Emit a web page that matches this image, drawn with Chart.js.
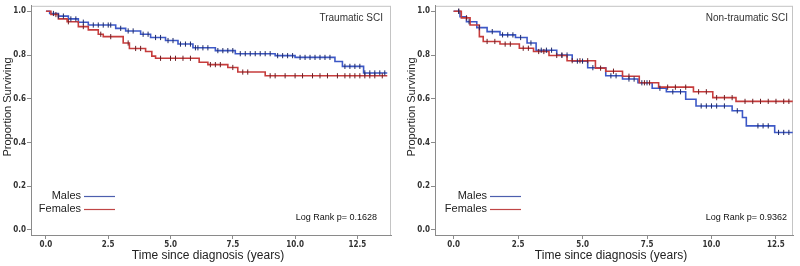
<!DOCTYPE html>
<html>
<head>
<meta charset="utf-8">
<script src="https://cdn.jsdelivr.net/npm/chart.js@4.4.1/dist/chart.umd.min.js"></script>
<style>
    html, body { margin: 0; padding: 0; background: #fff; }
    #wrap { display: flex; width: 800px; height: 266px; }
    canvas { display: block; }
</style>
</head>
<body>
<div id="wrap">
    <canvas id="traumaChart" width="400" height="266"></canvas>
    <canvas id="nonTraumaChart" width="400" height="266"></canvas>
</div>
<script>
const xTicks = [0, 2.5, 5, 7.5, 10, 12.5];
const yTicks = [0, 0.2, 0.4, 0.6, 0.8, 1.0];
const groupLabels = ['Males', 'Females'];
const panelTitles = ['Traumatic SCI', 'Non-traumatic SCI'];
const logRankTexts = ['Log Rank p= 0.1628', 'Log Rank p= 0.9362'];

// Traumatic SCI - step times (years) and survival after each step
const traumaMaleTime = [0, 0.15, 0.5, 0.9, 1.3, 1.7, 2.8, 3.2, 3.8, 4.2, 4.8, 5.3, 5.9, 6.8, 7.6, 9.2, 10.0, 11.6, 11.9, 12.75, 13.7];
const traumaMaleSurv = [1.0, 0.99, 0.978, 0.965, 0.95, 0.937, 0.922, 0.91, 0.895, 0.88, 0.866, 0.85, 0.833, 0.82, 0.806, 0.797, 0.789, 0.77, 0.748, 0.718, 0.718];
const traumaMaleCensor = [0.3, 0.5, 0.7, 1.0, 1.2, 1.5, 1.9, 2.1, 2.3, 2.5, 2.6, 3.0, 3.3, 3.5, 3.9, 4.1, 4.4, 4.6, 4.9, 5.1, 5.4, 5.6, 5.8, 6.0, 6.1, 6.3, 6.5, 6.9, 7.1, 7.3, 7.5, 7.8, 8.0, 8.2, 8.4, 8.6, 8.8, 9.0, 9.3, 9.5, 9.7, 9.9, 10.2, 10.4, 10.6, 10.8, 11.0, 11.2, 11.4, 12.0, 12.2, 12.4, 12.6, 12.8, 13.0, 13.2, 13.4, 13.6];

const traumaFemaleTime = [0, 0.2, 0.5, 0.85, 1.3, 1.7, 2.1, 2.3, 3.1, 3.35, 4.0, 4.25, 4.4, 6.15, 6.5, 7.3, 7.7, 8.8, 13.7];
const traumaFemaleSurv = [1.0, 0.985, 0.965, 0.952, 0.93, 0.915, 0.895, 0.884, 0.855, 0.83, 0.816, 0.795, 0.785, 0.767, 0.756, 0.743, 0.722, 0.705, 0.705];
const traumaFemaleCensor = [0.4, 0.9, 1.5, 2.2, 2.6, 3.3, 3.6, 3.8, 4.6, 5.0, 5.2, 5.5, 5.8, 6.6, 6.8, 7.0, 7.5, 7.9, 8.1, 9.0, 9.2, 9.6, 10.0, 10.3, 10.7, 11.0, 11.3, 11.7, 12.0, 12.2, 12.4, 12.6, 12.8, 13.0, 13.2, 13.5];

// Non-traumatic SCI
const nonTraumaMaleTime = [0, 0.25, 0.5, 0.9, 1.3, 1.8, 2.4, 2.85, 3.2, 4.0, 4.6, 5.2, 5.9, 6.55, 7.15, 7.7, 8.25, 9.0, 9.4, 10.8, 11.2, 11.35, 12.45, 13.15];
const nonTraumaMaleSurv = [1.0, 0.975, 0.952, 0.925, 0.907, 0.892, 0.88, 0.855, 0.822, 0.80, 0.772, 0.742, 0.705, 0.69, 0.673, 0.648, 0.632, 0.598, 0.567, 0.545, 0.514, 0.476, 0.446, 0.446];
const nonTraumaMaleCensor = [0.2, 0.6, 1.0, 1.5, 1.9, 2.1, 2.3, 2.6, 3.0, 3.4, 3.6, 3.8, 4.2, 4.4, 4.8, 5.0, 5.4, 6.1, 6.3, 6.8, 7.0, 7.3, 7.5, 8.0, 8.5, 8.8, 9.6, 9.8, 10.0, 10.2, 10.5, 11.0, 11.8, 12.0, 12.2, 12.6, 12.8, 13.0];

const nonTraumaFemaleTime = [0, 0.3, 0.64, 1.0, 1.15, 1.8, 2.55, 3.1, 3.7, 4.4, 5.5, 5.9, 6.55, 7.2, 7.95, 9.3, 10.05, 10.95, 13.15];
const nonTraumaFemaleSurv = [1.0, 0.97, 0.937, 0.884, 0.862, 0.85, 0.831, 0.816, 0.798, 0.774, 0.74, 0.726, 0.703, 0.673, 0.653, 0.632, 0.605, 0.588, 0.588];
const nonTraumaFemaleCensor = [0.2, 0.5, 1.3, 1.6, 2.0, 2.2, 2.7, 2.9, 3.3, 3.5, 4.0, 4.2, 4.6, 4.9, 5.2, 5.7, 6.2, 6.8, 7.4, 7.6, 8.3, 8.6, 9.0, 9.5, 9.8, 10.2, 10.5, 10.8, 11.3, 11.6, 11.9, 12.2, 12.5, 12.8, 13.0];

const lineColors = ['#3d58c6', '#c63c3c'];
const censorColors = ['#1f2a66', '#6b1e24'];
const legendColors = ['#4d5fae', '#c04646'];

// survival value in force at time t (last step at or before t)
function survivalAt(times, surv, t) {
    let s = surv[0];
    for (let i = 0; i < times.length; ++i) {
        if (times[i] <= t) s = surv[i];
    }
    return s;
}

function toPoints(times, values) {
    return times.map((t, i) => ({ x: t, y: values[i] }));
}

function censorPoints(times, surv, censor) {
    return censor.map(t => ({ x: t, y: survivalAt(times, surv, t) }));
}

const labelFont = "'Liberation Sans', Arial, sans-serif";
const tickFont = "'Liberation Sans Narrow', 'DejaVu Sans Condensed', sans-serif";

// frame, legend and texts for one panel
function panelDecor(opt) {
    return {
        id: 'panelDecor',
        beforeDraw(chart) {
            const a = chart.chartArea;
            const ctx = chart.ctx;
            ctx.save();
            ctx.strokeStyle = '#c4c4c4';
            ctx.lineWidth = 1;
            ctx.strokeRect(a.left + 0.5, a.top + 0.5, a.right - a.left - 1, a.bottom - a.top);
            ctx.restore();
        },
        afterDraw(chart) {
            const a = chart.chartArea;
            const ctx = chart.ctx;
            ctx.save();
            // y axis title
            ctx.fillStyle = '#222';
            ctx.font = '11px ' + labelFont;
            ctx.textAlign = 'center';
            ctx.textBaseline = 'middle';
            ctx.translate(opt.yTitleX, 107);
            ctx.rotate(-Math.PI / 2);
            ctx.fillText('Proportion Surviving', 0, 0);
            ctx.restore();

            ctx.save();
            ctx.fillStyle = '#222';
            ctx.font = '12px ' + labelFont;
            ctx.textAlign = 'center';
            ctx.textBaseline = 'middle';
            ctx.fillText('Time since diagnosis (years)', (a.left + a.right) / 2 - 3, 256);

            // panel title and log rank
            ctx.fillStyle = '#333';
            ctx.font = '10px ' + labelFont;
            ctx.textAlign = 'right';
            ctx.fillText(opt.title, a.right - opt.titleInset, 18);
            ctx.font = '9px ' + labelFont;
            ctx.fillStyle = '#111';
            ctx.fillText(opt.logRank, a.right - opt.logRankInset, 218);

            // legend
            ctx.font = '11px ' + labelFont;
            groupLabels.forEach((lab, i) => {
                const y = 196 + i * 13;
                const tx = a.left + opt.legendInset;
                ctx.fillStyle = '#222';
                ctx.textAlign = 'right';
                ctx.fillText(lab, tx, y);
                ctx.strokeStyle = legendColors[i];
                ctx.lineWidth = 1.2;
                ctx.beginPath();
                ctx.moveTo(tx + 3, y + 0.5);
                ctx.lineTo(tx + 34, y + 0.5);
                ctx.stroke();
            });
            ctx.restore();
        }
    };
}

function createChart(canvasID, series, xRange, opt) {
    const ctx = document.getElementById(canvasID).getContext('2d');

    const datasets = [];
    series.forEach((s, i) => {
        datasets.push({
            label: groupLabels[i],
            data: toPoints(s.time, s.surv),
            borderColor: lineColors[i],
            borderWidth: 1.6,
            stepped: true,
            pointRadius: 0,
            fill: false,
            order: 2 - i
        });
    });
    series.forEach((s, i) => {
        datasets.push({
            label: groupLabels[i] + ' censored',
            data: censorPoints(s.time, s.surv, s.censor),
            showLine: false,
            pointStyle: 'line',
            rotation: 90,
            pointRadius: 2.6,
            pointBorderWidth: 1,
            pointBorderColor: censorColors[i],
            borderColor: censorColors[i],
            order: 0
        });
    });

    return new Chart(ctx, {
        type: 'line',
        data: { datasets: datasets },
        options: {
            responsive: false,
            animation: false,
            devicePixelRatio: 1,
            layout: { padding: { top: 4, right: opt.rightPad, left: 0, bottom: 0 } },
            plugins: {
                legend: { display: false },
                tooltip: { enabled: false }
            },
            scales: {
                x: {
                    type: 'linear',
                    min: xRange[0],
                    max: xRange[1],
                    afterFit: scale => { scale.height = 31; },
                    afterBuildTicks: scale => { scale.ticks = xTicks.map(v => ({ value: v })); },
                    grid: { display: true, drawOnChartArea: false, tickLength: 4, color: '#8a8a8a' },
                    border: { display: true, color: '#8a8a8a', width: 1 },
                    ticks: {
                        maxRotation: 0,
                        padding: 1,
                        color: '#333',
                        font: { family: tickFont, size: 8, weight: 'bold' },
                        callback: v => v.toFixed(1)
                    }
                },
                y: {
                    min: -0.023,
                    max: 1.025,
                    afterFit: scale => { scale.width = opt.yWidth; },
                    afterBuildTicks: scale => { scale.ticks = yTicks.map(v => ({ value: v })); },
                    grid: { display: true, drawOnChartArea: false, tickLength: 4, color: '#8a8a8a' },
                    border: { display: true, color: '#8a8a8a', width: 1 },
                    ticks: {
                        padding: 1,
                        color: '#333',
                        font: { family: tickFont, size: 8, weight: 'bold' },
                        callback: v => v.toFixed(1)
                    }
                }
            }
        },
        plugins: [panelDecor(opt)]
    });
}

createChart('traumaChart', [
    { time: traumaMaleTime, surv: traumaMaleSurv, censor: traumaMaleCensor },
    { time: traumaFemaleTime, surv: traumaFemaleSurv, censor: traumaFemaleCensor }
], [-0.6, 13.85], {
    title: panelTitles[0], logRank: logRankTexts[0],
    yWidth: 31, rightPad: 9, yTitleX: 8,
    titleInset: 8, logRankInset: 14, legendInset: 50
});

createChart('nonTraumaChart', [
    { time: nonTraumaMaleTime, surv: nonTraumaMaleSurv, censor: nonTraumaMaleCensor },
    { time: nonTraumaFemaleTime, surv: nonTraumaFemaleSurv, censor: nonTraumaFemaleCensor }
], [-0.72, 13.16], {
    title: panelTitles[1], logRank: logRankTexts[1],
    yWidth: 35, rightPad: 7, yTitleX: 12,
    titleInset: 5, logRankInset: 6, legendInset: 52
});
</script>
</body>
</html>
